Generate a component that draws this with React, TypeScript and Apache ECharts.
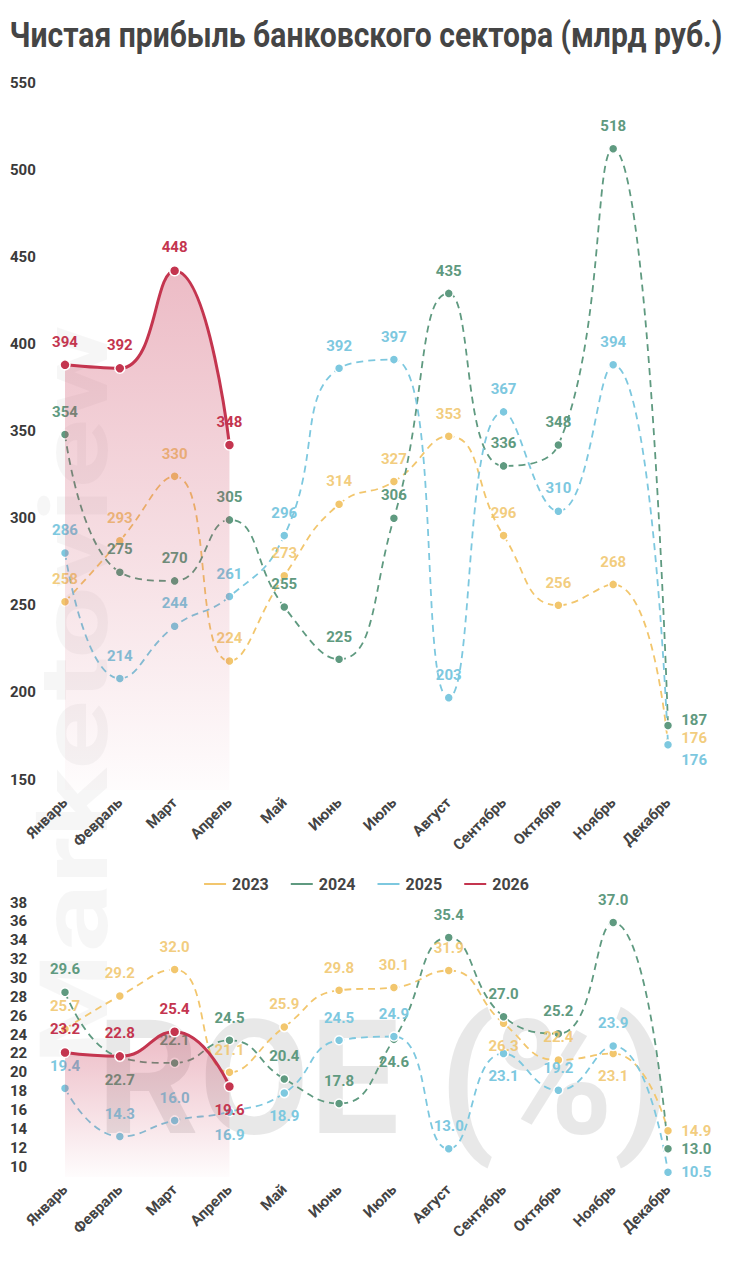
import { useEffect, useRef } from 'react'
import * as echarts from 'echarts'

const months = ['Январь', 'Февраль', 'Март', 'Апрель', 'Май', 'Июнь', 'Июль', 'Август', 'Сентябрь', 'Октябрь', 'Ноябрь', 'Декабрь']
const years = ['2023', '2024', '2025', '2026']

// Чистая прибыль, млрд руб.
const profit2023 = [258, 293, 330, 224, 273, 314, 327, 353, 296, 256, 268, 176]
const profit2024 = [354, 275, 270, 305, 255, 225, 306, 435, 336, 348, 518, 187]
const profit2025 = [286, 214, 244, 261, 296, 392, 397, 203, 367, 310, 394, 176]
const profit2026 = [394, 392, 448, 348]

// ROE, %
const roe2023 = [25.7, 29.2, 32.0, 21.1, 25.9, 29.8, 30.1, 31.9, 26.3, 22.4, 23.1, 14.9]
const roe2024 = [29.6, 22.7, 22.1, 24.5, 20.4, 17.8, 24.6, 35.4, 27.0, 25.2, 37.0, 13.0]
const roe2025 = [19.4, 14.3, 16.0, 16.9, 18.9, 24.5, 24.9, 13.0, 23.1, 19.2, 23.9, 10.5]
const roe2026 = [23.2, 22.8, 25.4, 19.6]

// points whose label sits under the marker
const roeBelow2023 = [8, 10]
const roeBelow2024 = [1, 6]
const roeBelow2025 = [3, 4, 8]
const roeBelow2026 = [3]

const colors = ['#f2c66d', '#5f9a80', '#7dc8df', '#c4354f']
const labelColors = ['rgba(240,196,104,0.85)', '#5f9a80', '#7dc8df', '#c4354f']

const font = 'Roboto'

function buildData(values: number[], below: number[], lastOffset: number[]) {
  return values.map((v, i) => {
    const item: any = { value: v }
    if (below.includes(i)) {
      item.label = { position: 'bottom' }
    }
    if (i === 11) {
      item.label = { position: 'right', distance: 8, offset: lastOffset }
    }
    return item
  })
}

function lineSeries(idx: number, values: number[], axis: number, below: number[], decimals: number, lastOffset: number[]) {
  const isCurrent = idx === 3
  const color = colors[idx]
  const s: any = {
    name: years[idx],
    type: 'line',
    xAxisIndex: axis,
    yAxisIndex: axis,
    smooth: 0.5,
    data: buildData(values, below, lastOffset),
    symbol: 'circle',
    symbolSize: isCurrent ? 10 : 9,
    z: isCurrent ? 5 : 3,
    itemStyle: { color, borderColor: '#fff', borderWidth: 1.5 },
    lineStyle: isCurrent
      ? { color, width: 3 }
      : { color, width: 1.8, type: [7, 5] },
    label: {
      show: true,
      position: 'top',
      distance: 10,
      color: labelColors[idx],
      fontFamily: font,
      fontWeight: 'bold',
      fontSize: 15,
      formatter: (p: any) => decimals ? Number(p.value).toFixed(decimals) : String(p.value)
    }
  }
  if (isCurrent) {
    s.areaStyle = {
      origin: 'start',
      color: new echarts.graphic.LinearGradient(0, 0, 0, 1, [
        { offset: 0, color: 'rgba(200,55,85,0.48)' },
        { offset: 1, color: 'rgba(200,55,85,0.02)' }
      ])
    }
  }
  return s
}

export default function App() {
  const chartRef = useRef<HTMLDivElement>(null)

  useEffect(() => {
    if (!chartRef.current) return
    document.body.style.margin = '0'

    const chart = echarts.init(chartRef.current, undefined, { renderer: 'svg' })

    const xAxisBase = {
      type: 'category',
      data: months,
      boundaryGap: false,
      axisLine: { show: false },
      axisTick: { show: false },
      splitLine: { show: false },
      axisLabel: {
        rotate: 45,
        margin: 10,
        color: '#444',
        fontFamily: font,
        fontWeight: 'bold',
        fontSize: 15
      }
    }

    const yLabel = {
      color: '#3a3a3a',
      fontFamily: font,
      fontWeight: 'bold',
      fontSize: 15,
      align: 'left',
      margin: 55,
      verticalAlign: 'bottom',
      padding: [0, 0, 3, 0]
    }

    const option = {
      animation: false,
      backgroundColor: '#fff',
      graphic: [
        {
          type: 'text',
          x: 75,
          y: 695,
          rotation: Math.PI / 2,
          scaleX: 1.35,
          z: 0,
          style: {
            text: 'Marketoview',
            fontFamily: font,
            fontWeight: 'bold',
            fontSize: 95,
            fill: 'rgba(0,0,0,0.035)',
            textAlign: 'center',
            textVerticalAlign: 'middle'
          }
        },
        {
          type: 'text',
          x: 383,
          y: 1078,
          z: 0,
          style: {
            text: 'ROE (%)',
            fontFamily: font,
            fontWeight: 'bold',
            fontSize: 160,
            fill: 'rgba(0,0,0,0.09)',
            textAlign: 'center',
            textVerticalAlign: 'middle'
          }
        },
        {
          type: 'text',
          x: 366,
          y: 35,
          scaleX: 0.86,
          style: {
            text: 'Чистая прибыль банковского сектора (млрд руб.)',
            fontFamily: font,
            fontWeight: 'bold',
            fontSize: 35,
            fill: '#454545',
            textAlign: 'center',
            textVerticalAlign: 'middle'
          }
        }
      ],
      legend: {
        data: years,
        top: 871,
        left: 'center',
        icon: 'rect',
        itemWidth: 24,
        itemHeight: 4,
        itemGap: 20,
        textStyle: {
          color: '#444',
          fontFamily: font,
          fontWeight: 'bold',
          fontSize: 16
        }
      },
      grid: [
        { left: 65, right: 63, top: 93, height: 697 },
        { left: 65, right: 63, top: 913, height: 264 }
      ],
      xAxis: [
        { ...xAxisBase, gridIndex: 0 },
        { ...xAxisBase, gridIndex: 1 }
      ],
      yAxis: [
        {
          type: 'value',
          gridIndex: 0,
          min: 150,
          max: 550,
          interval: 50,
          axisLine: { show: false },
          axisTick: { show: false },
          splitLine: { show: false },
          axisLabel: yLabel
        },
        {
          type: 'value',
          gridIndex: 1,
          min: 10,
          max: 38,
          interval: 2,
          axisLine: { show: false },
          axisTick: { show: false },
          splitLine: { show: false },
          axisLabel: yLabel
        }
      ],
      series: [
        lineSeries(0, profit2023, 0, [], 0, [0, -7]),
        lineSeries(1, profit2024, 0, [], 0, [0, -6]),
        lineSeries(2, profit2025, 0, [], 0, [0, 15]),
        lineSeries(3, profit2026, 0, [], 0, [0, 0]),
        lineSeries(0, roe2023, 1, roeBelow2023, 1, [0, 0]),
        lineSeries(1, roe2024, 1, roeBelow2024, 1, [0, 0]),
        lineSeries(2, roe2025, 1, roeBelow2025, 1, [0, 0]),
        lineSeries(3, roe2026, 1, roeBelow2026, 1, [0, 0])
      ]
    }

    chart.setOption(option)

    return () => {
      chart.dispose()
    }
  }, [])

  return <div ref={chartRef} style={{ width: 731, height: 1280 }} />
}
